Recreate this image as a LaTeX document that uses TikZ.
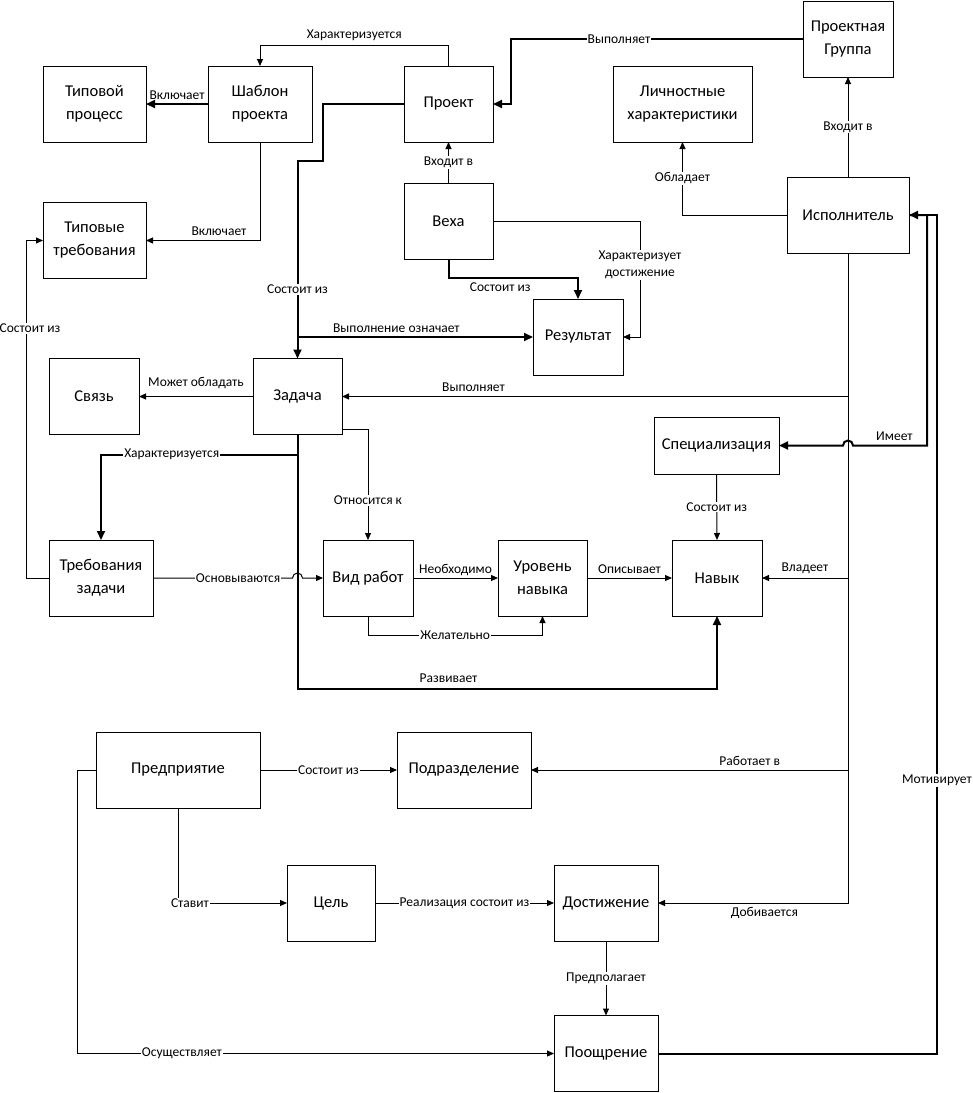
\documentclass[tikz,border=0pt]{standalone}
\usepackage{fontspec}
\setmainfont{Carlito}
\usetikzlibrary{arrows.meta}

\begin{document}
\begin{tikzpicture}[x=1pt,y=-1pt,
	box/.style={draw, line width=1pt, outer sep=0pt, minimum height=76pt, inner sep=2pt, align=center, font=\fontsize{16.5}{23}\selectfont},
	rel/.style={line width=1pt, -{Triangle[length=7pt,width=6pt]}},
	mainrel/.style={line width=2pt, -{Triangle[length=9pt,width=8pt]}},
	lbl/.style={fill=white, inner sep=1pt, align=center, font=\fontsize{13.5}{17}\selectfont},
	txt/.style={inner sep=1pt, font=\fontsize{13.5}{17}\selectfont}]
	\def\hump{5pt}   % radius of the line jumps
	
	\useasboundingbox (0,0) rectangle (973,1093);
	
	% Boxes
	\node[box, minimum width=103pt] (tiproc) at (94.5,104) {Типовой\\процесс};
	\node[box, minimum width=104pt] (shablon) at (260,104) {Шаблон\\проекта};
	\node[box, minimum width=89pt] (proekt) at (448.5,104) {Проект};
	\node[box, minimum width=90pt] (gruppa) at (848,39) {Проектная\\Группа};
	\node[box, minimum width=139pt] (lichn) at (682.5,104) {Личностные\\характеристики};
	\node[box, minimum width=103pt] (tipreq) at (94.5,240.5) {Типовые\\требования};
	\node[box, minimum width=89pt] (vekha) at (448.5,221) {Веха};
	\node[box, minimum width=122pt] (ispoln) at (848,215) {Исполнитель};
	\node[box, minimum width=90pt] (result) at (578,337) {Результат};
	\node[box, minimum width=90pt] (svyaz) at (94,396.5) {Связь};
	\node[box, minimum width=89pt] (zadacha) at (297.5,396.5) {Задача};
	\node[box, minimum width=125pt, minimum height=57pt] (spec) at (716.5,445.5) {Специализация};
	\node[box, minimum width=104pt] (treb) at (101,578) {Требования\\задачи};
	\node[box, minimum width=90pt] (vid) at (368,578) {Вид работ};
	\node[box, minimum width=89pt] (uroven) at (542.5,578) {Уровень\\навыка};
	\node[box, minimum width=90pt] (navyk) at (717,578) {Навык};
	\node[box, minimum width=164pt] (predpr) at (178,770) {Предприятие};
	\node[box, minimum width=134pt] (podr) at (464,770) {Подразделение};
	\node[box, minimum width=88pt] (tsel) at (331,903) {Цель};
	\node[box, minimum width=104pt] (dost) at (606,903) {Достижение};
	\node[box, minimum width=104pt] (pooshch) at (606,1053.5) {Поощрение};
	
	% Project part
	\draw[rel] (proekt.north) -- ++(0,-21) -| node[txt, pos=0.25, above=3pt] {Характеризуется} (shablon.north);
	\draw[mainrel] (shablon.west) -- node[txt, above=2pt] {Включает} (tiproc.east);
	\draw[rel] (shablon.south) |- node[txt, pos=0.68, above=3pt] {Включает} (tipreq.east);
	\draw[mainrel] (proekt.west) -- ++(-81,0) -- ++(0,57) -| node[lbl, pos=0.825] {Состоит из} (zadacha.north);
	\draw[mainrel] (zadacha.north |- result.west) -- node[txt, pos=0.42, above=2pt] {Выполнение означает} (result.west);
	\draw[rel] (vekha.north) -- node[lbl] {Входит в} (proekt.south);
	\draw[mainrel] (vekha.south) -- ++(0,19) -| node[txt, pos=0.2, below=3pt] {Состоит из} (result.north);
	\draw[rel] (vekha.east) -- ++(147,0) |- node[lbl, pos=0.19] {Характеризует\\достижение} (result.east);
	\draw[mainrel] (gruppa.west) -- node[lbl, pos=0.63] {Выполняет} ++(-292,0) |- (proekt.east);
	
	% Executor
	\draw[rel] (ispoln.north) -- node[lbl] {Входит в} (gruppa.south);
	\draw[rel] (ispoln.west) -| node[lbl, pos=0.75] {Обладает} (lichn.south);
	\draw[rel] (ispoln.south) |- node[txt, pos=0.72, below=3pt] {Добивается} (dost.east);
	\draw[rel] (ispoln.south |- zadacha.east) -- node[txt, pos=0.74, above=3pt] {Выполняет} (zadacha.east);
	\draw[rel] (ispoln.south |- navyk.east) -- node[txt, above=3pt] {Владеет} (navyk.east);
	\draw[rel] (ispoln.south |- podr.east) -- node[txt, pos=0.31, above=3pt] {Работает в} (podr.east);
	\draw[mainrel] (ispoln.east) -- ++(18,0) |- node[txt, pos=0.72, above=3pt] {Имеет} ([xshift=\hump]ispoln.south |- spec.east)
		arc[start angle=0, end angle=180, radius=\hump] -- (spec.east);
	\draw[mainrel] (pooshch.east) -- ++(279,0) |- node[lbl, pos=0.163] {Мотивирует} (ispoln.east);
	
	% Task part
	\draw[rel] (zadacha.west) -- node[txt, above=6pt] {Может обладать} (svyaz.east);
	\draw[mainrel] (zadacha.south) -- ++(0,20) -| node[lbl, pos=0.32] {Характеризуется} (treb.north);
	\draw[mainrel] (zadacha.south) -- ++(0,254) -| node[txt, pos=0.18, above=4pt] {Развивает} (navyk.south);
	\draw[rel] ([yshift=5pt]zadacha.south east) -| node[lbl, pos=0.82] {Относится к} (vid.north);
	\draw[rel] (treb.east) -- node[lbl, pos=0.61] {Основываются} ([xshift=-\hump]zadacha.south |- treb.east)
		arc[start angle=180, end angle=0, radius=\hump] -- (vid.west);
	\draw[rel] (treb.west) -- ++(-23,0) |- node[lbl, pos=0.37, xshift=4pt] {Состоит из} (tipreq.west);
	\draw[rel] (vid.east) -- node[txt, above=1pt] {Необходимо} (uroven.west);
	\draw[rel] (vid.south) -- ++(0,19) -| node[lbl, pos=0.25] {Желательно} (uroven.south);
	\draw[rel] (uroven.east) -- node[txt, above=3pt] {Описывает} (navyk.west);
	\draw[rel] (spec.south) -- node[lbl] {Состоит из} (navyk.north);
	
	% Enterprise part
	\draw[rel] (predpr.east) -- node[lbl] {Состоит из} (podr.west);
	\draw[rel] (predpr.south) |- node[lbl, pos=0.555] {Ставит} (tsel.west);
	\draw[rel] (tsel.east) -- node[lbl] {Реализация состоит из} (dost.west);
	\draw[rel] (predpr.west) -- ++(-19,0) |- node[lbl, pos=0.61] {Осуществляет} (pooshch.west);
	\draw[rel] (dost.south) -- node[lbl] {Предполагает} (pooshch.north);
\end{tikzpicture}
\end{document}
